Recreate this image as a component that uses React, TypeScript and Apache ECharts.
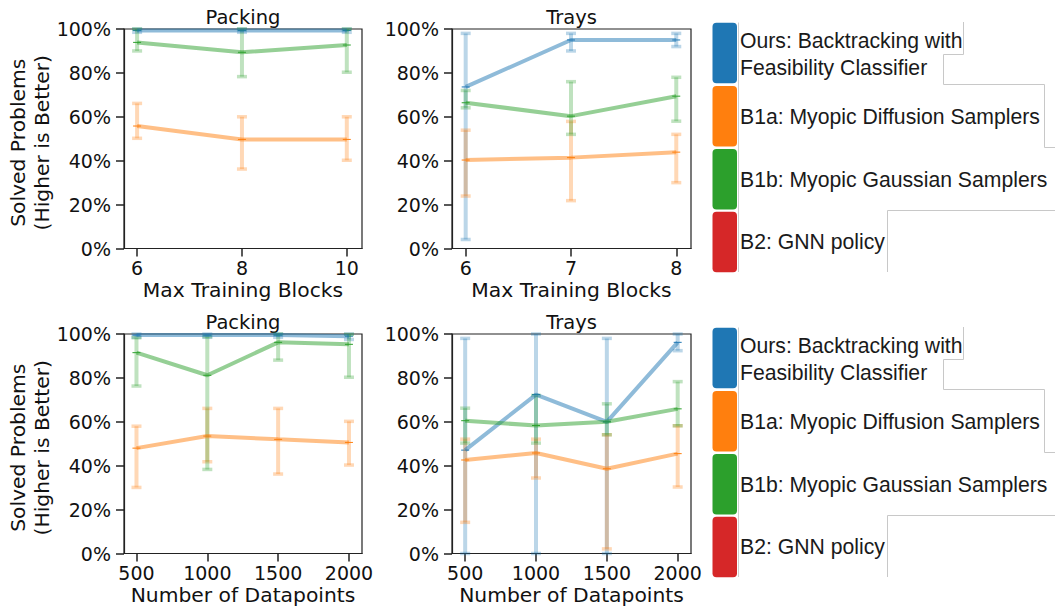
import React, { useEffect, useRef } from "react";
import * as echarts from "echarts";

// ---------- data ----------
const packingBlocks = [6, 8, 10];
const traysBlocks = [6, 7, 8];
const datapoints = [500, 1000, 1500, 2000];

const methodNames = [
  "Ours: Backtracking with\nFeasibility Classifier",
  "B1a: Myopic Diffusion Samplers",
  "B1b: Myopic Gaussian Samplers",
  "B2: GNN policy",
];
const methodColors = ["#1f77b4", "#ff7f0e", "#2ca02c", "#d62728"];

// Packing vs max training blocks
const packBlocksOursMean = [0.993, 0.993, 0.993];
const packBlocksOursLo = [0.985, 0.985, 0.985];
const packBlocksOursHi = [1.0, 1.0, 1.0];
const packBlocksB1aMean = [0.558, 0.497, 0.497];
const packBlocksB1aLo = [0.502, 0.362, 0.402];
const packBlocksB1aHi = [0.661, 0.6, 0.6];
const packBlocksB1bMean = [0.939, 0.894, 0.927];
const packBlocksB1bLo = [0.9, 0.783, 0.803];
const packBlocksB1bHi = [1.0, 1.0, 1.0];

// Trays vs max training blocks
const traysBlocksOursMean = [0.736, 0.95, 0.95];
const traysBlocksOursLo = [0.041, 0.9, 0.92];
const traysBlocksOursHi = [0.98, 0.98, 0.98];
const traysBlocksB1aMean = [0.403, 0.414, 0.439];
const traysBlocksB1aLo = [0.239, 0.218, 0.3];
const traysBlocksB1aHi = [0.539, 0.579, 0.52];
const traysBlocksB1bMean = [0.664, 0.603, 0.694];
const traysBlocksB1bLo = [0.641, 0.52, 0.58];
const traysBlocksB1bHi = [0.72, 0.76, 0.78];

// Packing vs number of datapoints
const packDataOursMean = [0.995, 0.995, 0.995, 0.99];
const packDataOursLo = [0.985, 0.985, 0.985, 0.975];
const packDataOursHi = [1.0, 1.0, 1.0, 1.0];
const packDataB1aMean = [0.48, 0.535, 0.52, 0.506];
const packDataB1aLo = [0.301, 0.418, 0.362, 0.403];
const packDataB1aHi = [0.58, 0.661, 0.661, 0.602];
const packDataB1bMean = [0.915, 0.812, 0.962, 0.953];
const packDataB1bLo = [0.763, 0.383, 0.881, 0.803];
const packDataB1bHi = [0.983, 0.988, 1.0, 0.998];

// Trays vs number of datapoints
const traysDataOursMean = [0.471, 0.724, 0.6, 0.962];
const traysDataOursLo = [0.0, 0.0, 0.0, 0.924];
const traysDataOursHi = [0.98, 1.0, 0.98, 1.0];
const traysDataB1aMean = [0.426, 0.458, 0.386, 0.455];
const traysDataB1aLo = [0.142, 0.344, 0.021, 0.303];
const traysDataB1aHi = [0.521, 0.521, 0.541, 0.582];
const traysDataB1bMean = [0.605, 0.583, 0.6, 0.659];
const traysDataB1bLo = [0.503, 0.503, 0.541, 0.582];
const traysDataB1bHi = [0.662, 0.72, 0.682, 0.783];

const yTicks = [0, 0.2, 0.4, 0.6, 0.8, 1.0];

const FONT = "DejaVu Sans";
const TXT = "#111";

type Panel = {
  title: string;
  xName: string;
  xs: number[];
  xMin: number;
  xMax: number;
  means: number[][];
  los: number[][];
  his: number[][];
  left: number;
  top: number;
  width: number;
};

const panels: Panel[] = [
  {
    title: "Packing",
    xName: "Max Training Blocks",
    xs: packingBlocks,
    xMin: 5.75,
    xMax: 10.29,
    means: [packBlocksOursMean, packBlocksB1aMean, packBlocksB1bMean],
    los: [packBlocksOursLo, packBlocksB1aLo, packBlocksB1bLo],
    his: [packBlocksOursHi, packBlocksB1aHi, packBlocksB1bHi],
    left: 124,
    top: 29,
    width: 238,
  },
  {
    title: "Trays",
    xName: "Max Training Blocks",
    xs: traysBlocks,
    xMin: 5.87,
    xMax: 8.14,
    means: [traysBlocksOursMean, traysBlocksB1aMean, traysBlocksB1bMean],
    los: [traysBlocksOursLo, traysBlocksB1aLo, traysBlocksB1bLo],
    his: [traysBlocksOursHi, traysBlocksB1aHi, traysBlocksB1bHi],
    left: 452,
    top: 29,
    width: 239,
  },
  {
    title: "Packing",
    xName: "Number of Datapoints",
    xs: datapoints,
    xMin: 412,
    xMax: 2092,
    means: [packDataOursMean, packDataB1aMean, packDataB1bMean],
    los: [packDataOursLo, packDataB1aLo, packDataB1bLo],
    his: [packDataOursHi, packDataB1aHi, packDataB1bHi],
    left: 124,
    top: 334,
    width: 238,
  },
  {
    title: "Trays",
    xName: "Number of Datapoints",
    xs: datapoints,
    xMin: 407,
    xMax: 2094,
    means: [traysDataOursMean, traysDataB1aMean, traysDataB1bMean],
    los: [traysDataOursLo, traysDataB1aLo, traysDataB1bLo],
    his: [traysDataOursHi, traysDataB1aHi, traysDataB1bHi],
    left: 452,
    top: 334,
    width: 239,
  },
];

const PLOT_H = 219.5;

function hexA(hex: string, a: number) {
  const r = parseInt(hex.slice(1, 3), 16);
  const g = parseInt(hex.slice(3, 5), 16);
  const b = parseInt(hex.slice(5, 7), 16);
  return `rgba(${r},${g},${b},${a})`;
}

function buildOption() {
  const grid: any[] = [];
  const xAxis: any[] = [];
  const yAxis: any[] = [];
  const series: any[] = [];
  const graphic: any[] = [];

  panels.forEach((p, i) => {
    grid.push({
      left: p.left,
      top: p.top,
      width: p.width,
      height: PLOT_H,
      show: true,
      borderColor: "#222",
      borderWidth: 1.2,
      backgroundColor: "transparent",
    });
    xAxis.push({
      type: "value",
      gridIndex: i,
      min: p.xMin,
      max: p.xMax,
      name: p.xName,
      nameLocation: "middle",
      nameGap: 31,
      nameTextStyle: { fontFamily: FONT, fontSize: 20.3, color: TXT },
      splitLine: { show: false },
      axisLine: { show: true, onZero: false, lineStyle: { color: "#222", width: 1.2 } },
      axisTick: { show: true, length: 8, lineStyle: { color: "#222", width: 1.5 }, customValues: p.xs },
      axisLabel: {
        show: true,
        margin: 10,
        fontFamily: FONT,
        fontSize: 19,
        color: TXT,
        customValues: p.xs,
        formatter: (v: number) => String(v),
      },
    });
    yAxis.push({
      type: "value",
      gridIndex: i,
      min: 0,
      max: 1,
      interval: 0.2,
      splitLine: { show: false },
      axisLine: { show: true, lineStyle: { color: "#222", width: 1.2 } },
      axisTick: { show: true, length: 8, lineStyle: { color: "#222", width: 1.5 }, customValues: yTicks },
      axisLabel: {
        show: true,
        margin: 13,
        fontFamily: FONT,
        fontSize: 19,
        color: TXT,
        customValues: yTicks,
        formatter: (v: number) => Math.round(v * 100) + "%",
      },
    });

    // titles
    graphic.push({
      type: "text",
      x: p.left + p.width / 2,
      y: p.top - 12,
      style: {
        text: p.title,
        fontFamily: FONT,
        fontSize: 19.5,
        fill: TXT,
        align: "center",
        verticalAlign: "middle",
      },
    });

    p.means.forEach((mean, k) => {
      const color = methodColors[k];
      const ebData = p.xs.map((x, j) => [x, mean[j], p.los[k][j], p.his[k][j]]);
      series.push({
        type: "custom",
        name: methodNames[k],
        xAxisIndex: i,
        yAxisIndex: i,
        clip: false,
        z: 2 + k,
        encode: { x: 0, y: [1, 2, 3] },
        data: ebData,
        renderItem: (params: any, api: any) => {
          const x = api.value(0);
          const m = api.value(1);
          const lo = api.value(2);
          const hi = api.value(3);
          const pLo = api.coord([x, lo]);
          const pHi = api.coord([x, hi]);
          const pM = api.coord([x, m]);
          const eb = hexA(color, 0.3);
          const cw = 5;
          return {
            type: "group",
            children: [
              {
                type: "line",
                shape: { x1: pLo[0], y1: pLo[1], x2: pHi[0], y2: pHi[1] },
                style: { stroke: eb, lineWidth: 4 },
              },
              {
                type: "line",
                shape: { x1: pLo[0] - cw, y1: pLo[1], x2: pLo[0] + cw, y2: pLo[1] },
                style: { stroke: eb, lineWidth: 3.5 },
              },
              {
                type: "line",
                shape: { x1: pHi[0] - cw, y1: pHi[1], x2: pHi[0] + cw, y2: pHi[1] },
                style: { stroke: eb, lineWidth: 3.5 },
              },
              {
                type: "line",
                z2: 10,
                shape: { x1: pM[0] - 4, y1: pM[1], x2: pM[0] + 4, y2: pM[1] },
                style: { stroke: color, lineWidth: 1 },
              },
            ],
          };
        },
      });
      series.push({
        type: "line",
        name: methodNames[k],
        xAxisIndex: i,
        yAxisIndex: i,
        z: 5 + k,
        showSymbol: false,
        symbol: "none",
        data: p.xs.map((x, j) => [x, mean[j]]),
        lineStyle: { color, width: 4, opacity: 0.5 },
        itemStyle: { color },
      });
    });
  });

  // y-axis titles
  [29, 334].forEach((top) => {
    graphic.push({
      type: "text",
      x: 30,
      y: top + PLOT_H / 2 + 4,
      rotation: Math.PI / 2,
      style: {
        text: "Solved Problems\n(Higher is Better)",
        fontFamily: FONT,
        fontSize: 20.3,
        lineHeight: 24,
        fill: TXT,
        align: "center",
        verticalAlign: "middle",
      },
    });
  });

  // legends
  [0, 305].forEach((dy) => {
    const rectTops = [22.7, 86, 149, 211.7];
    rectTops.forEach((t, k) => {
      graphic.push({
        type: "rect",
        shape: { x: 712.5, y: t + dy, width: 24.5, height: 60.5, r: 4 },
        style: { fill: methodColors[k] },
      });
    });
    graphic.push({
      type: "line",
      shape: { x1: 738.5, y1: 22.5 + dy, x2: 738.5, y2: 272 + dy },
      style: { stroke: "#cfcfcf", lineWidth: 1 },
    });
    graphic.push({
      type: "polyline",
      shape: {
        points: [
          [963.5, 22 + dy],
          [963.5, 54.5 + dy],
          [943.5, 54.5 + dy],
          [943.5, 84.5 + dy],
          [1044.5, 84.5 + dy],
          [1044.5, 147.5 + dy],
          [1055, 147.5 + dy],
        ],
      },
      style: { stroke: "#c8c8c8", lineWidth: 1, fill: null },
    });
    graphic.push({
      type: "polyline",
      shape: {
        points: [
          [887.5, 272 + dy],
          [887.5, 210.5 + dy],
          [1055, 210.5 + dy],
        ],
      },
      style: { stroke: "#c8c8c8", lineWidth: 1, fill: null },
    });
    const lines: [string, number][] = [
      ["Ours: Backtracking with", 40],
      ["Feasibility Classifier", 67],
      ["B1a: Myopic Diffusion Samplers", 116],
      ["B1b: Myopic Gaussian Samplers", 179],
      ["B2: GNN policy", 241.7],
    ];
    lines.forEach(([txt, y]) => {
      graphic.push({
        type: "text",
        x: 740,
        y: y + dy,
        style: {
          text: txt,
          fontFamily: "Liberation Sans",
          fontSize: 21.2,
          fill: "#1a1a1a",
          align: "left",
          verticalAlign: "middle",
        },
      });
    });
  });

  return {
    animation: false,
    backgroundColor: "#ffffff",
    grid,
    xAxis,
    yAxis,
    series,
    graphic,
  };
}

export default function App() {
  const ref = useRef<HTMLDivElement>(null);
  useEffect(() => {
    if (!ref.current) return;
    const chart = echarts.init(ref.current, null, { renderer: "svg" });
    chart.setOption(buildOption() as any);
    return () => chart.dispose();
  }, []);
  return (
    <div
      ref={ref}
      style={{ position: "fixed", left: 0, top: 0, width: 1055, height: 609 }}
    />
  );
}
